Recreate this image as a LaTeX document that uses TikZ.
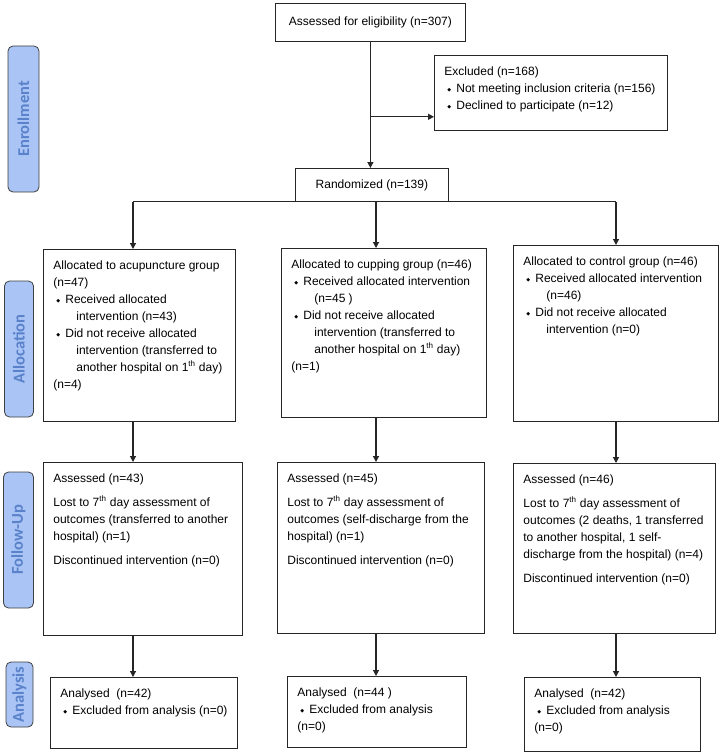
\documentclass[tikz,border=0pt]{standalone}
\usepackage{fontspec}
\setmainfont{Liberation Sans}
\newfontfamily\symfont{DejaVu Sans}
\newfontfamily\phasefont{Carlito}
\usetikzlibrary{arrows.meta, positioning}
\definecolor{cline}{HTML}{262626}
\definecolor{cedge}{HTML}{404040}
\definecolor{cphase}{HTML}{A9C4F5}
\definecolor{cphasetext}{HTML}{5A82CA}
\tikzset{
  every picture/.style={line width=0.8pt},
  every node/.style={font=\fontsize{12}{17}\selectfont},
  flow/.style={draw=cline, anchor=north west, inner sep=0pt, align=center},
  phase/.style={draw=cedge, fill=cphase, rounded corners=5pt, rotate=90, inner sep=0pt,
                font=\phasefont\bfseries\fontsize{16.5}{16.5}\selectfont, text=cphasetext},
  arrow/.style={-{Triangle[length=6pt, width=6pt]}, draw=cline, line width=1.2pt},
}
\newcommand{\dmd}{\makebox[12pt][l]{\hspace{3pt}\raisebox{1pt}{\symfont\fontsize{5}{5}\selectfont ◆}}}
\newcommand{\contline}{\hspace*{23pt}}

\begin{document}
\begin{tikzpicture}[x=1pt, y=-1pt]
  \useasboundingbox[fill=white] (0,0) rectangle (722,752);
  % box with its lines set from the top left corner
  \newcommand{\flowbox}[6]{% #1 name, #2 x, #3 y, #4 width, #5 height, #6 lines
    \node[flow] (#1) at (#2,#3) {\parbox[c][#5pt][t]{#4pt}{\raggedright\leftskip=10pt\vspace*{8pt}\strut#6}};
  }
  % phase labels on the left
  \node[phase, minimum width=146, minimum height=31] (enrol) at (23.5,119) {Enrollment};
  \node[phase, minimum width=136, minimum height=29] (alloc) at (19,349) {Allocation};
  \node[phase, minimum width=136, minimum height=30] (follow) at (18.5,540) {Follow-Up};
  \node[phase, minimum width=65, minimum height=27] (analys) at (19.5,694.5) {Analysis};
  % enrollment
  \node[flow, minimum width=190, minimum height=38] (assess) at (275,3) {Assessed for eligibility (n=307)};
  \flowbox{excl}{434}{55}{233}{75}{Excluded (n=168)\\\dmd Not meeting inclusion criteria (n=156)\\\dmd Declined to participate (n=12)}
  \node[flow, minimum width=153, minimum height=33] (rand) at (295,168) {Randomized (n=139)};
  % allocation
  \flowbox{allocA}{43}{249}{192}{172}{Allocated to acupuncture group\\(n=47)\\\dmd Received allocated\\\contline intervention (n=43)\\\dmd Did not receive allocated\\\contline intervention (transferred to\\\contline another hospital on 1\textsuperscript{th} day)\\(n=4)}
  \flowbox{allocB}{281}{248}{205}{169}{Allocated to cupping group (n=46)\\\dmd Received allocated intervention\\\contline (n=45 )\\\dmd Did not receive allocated\\\contline intervention (transferred to\\\contline another hospital on 1\textsuperscript{th} day)\\(n=1)}
  \flowbox{allocC}{513}{245}{205}{176}{Allocated to control group (n=46)\\\dmd Received allocated intervention\\\contline (n=46)\\\dmd Did not receive allocated\\\contline intervention (n=0)}
  % follow-up
  \flowbox{fuA}{43}{462}{199}{173}{Assessed (n=43)\\[7pt]Lost to 7\textsuperscript{th} day assessment of\\outcomes (transferred to another\\hospital) (n=1)\\[7pt]Discontinued intervention (n=0)}
  \flowbox{fuB}{277}{462}{207}{171}{Assessed (n=45)\\[7pt]Lost to 7\textsuperscript{th} day assessment of\\outcomes (self-discharge from the\\hospital) (n=1)\\[7pt]Discontinued intervention (n=0)}
  \flowbox{fuC}{513}{463}{202}{170}{Assessed (n=46)\\[7pt]Lost to 7\textsuperscript{th} day assessment of\\outcomes (2 deaths, 1 transferred\\to another hospital, 1 self-\\discharge from the hospital) (n=4)\\[7pt]Discontinued intervention (n=0)}
  % analysis
  \flowbox{anA}{50}{677}{187}{71}{Analysed\ \ (n=42)\\\dmd Excluded from analysis (n=0)}
  \flowbox{anB}{287}{676}{179}{71}{Analysed\ \ (n=44 )\\\dmd Excluded from analysis\\(n=0)}
  \flowbox{anC}{524}{677}{176}{74}{Analysed\ \ (n=42)\\\dmd Excluded from analysis\\(n=0)}
  % connectors
  \path (assess.south) ++(0,75) coordinate (split);
  \coordinate (colA) at (133,0);
  \coordinate (colB) at (376,0);
  \coordinate (colC) at (616,0);
  \draw[arrow] (assess.south) -- (assess.south |- rand.north);
  \draw[arrow] (split) -- (split -| excl.west);
  \draw[line width=1.2pt, draw=cline] (colA |- rand.south) -- (colC |- rand.south);
  \foreach \c/\a/\f/\n in {colA/allocA/fuA/anA, colB/allocB/fuB/anB, colC/allocC/fuC/anC} {
    \draw[arrow] (\c |- rand.south) -- (\c |- \a.north);
    \draw[arrow] (\c |- \a.south) -- (\c |- \f.north);
    \draw[arrow] (\c |- \f.south) -- (\c |- \n.north);
  }
\end{tikzpicture}
\end{document}
